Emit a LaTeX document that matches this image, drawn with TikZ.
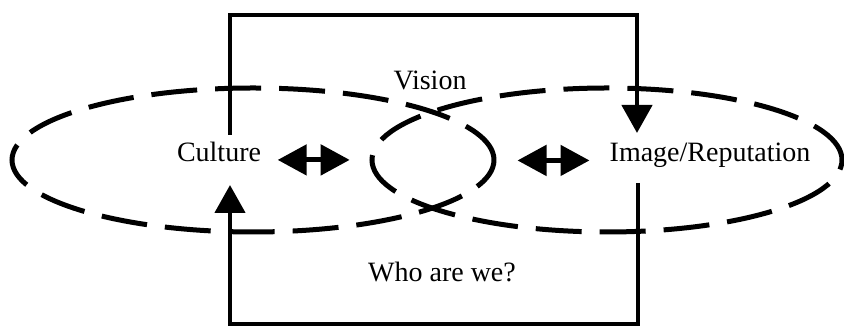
\documentclass[tikz,border=0pt]{standalone}
\usepackage{fontspec}
\setmainfont{Liberation Serif}
\usepackage{tikz}
\usetikzlibrary{arrows.meta,positioning}
\tikzset{
  lnk/.style={-{Triangle[length=28pt,width=30pt]},line width=4.6pt},
  dbl/.style={{Triangle[length=29pt,width=30pt]}-{Triangle[length=29pt,width=30pt]},line width=5pt},
  ring/.style={line width=5pt,dash pattern=on 46pt off 18pt},
  lbl/.style={font=\fontsize{28}{32}\selectfont,anchor=base,inner sep=2pt}
}

\begin{document}
\begin{tikzpicture}[x=1pt,y=1pt]
\useasboundingbox (0,0) rectangle (844,326);
\draw[ring] (253,166) ellipse (241 and 72);
\draw[ring] (607,166) ellipse (235 and 72);
\node[lbl] (culture) at (219,164) {Culture};
\node[lbl] (image) at (710,164) {Image/Reputation};
\node[lbl] (vision) at (430,236) {Vision};
\node[lbl] (who) at (442,44) {Who are we?};
\coordinate (cTop) at (230,191);
\coordinate (cBot) at (230,141);
\coordinate (iTop) at (637,193);
\coordinate (iBot) at (638,143);
\draw[lnk] (cTop) -- ++(0,120) -| (iTop);
\draw[lnk] (iBot) -- ++(0,-141) -| (cBot);
\draw[dbl] ([shift={(14.5,-7.5)}]culture.east) -- ++(72,0);
\draw[dbl] ([shift={(-18,-4.7)}]image.west) -- ++(-72,0);
\end{tikzpicture}
\end{document}
